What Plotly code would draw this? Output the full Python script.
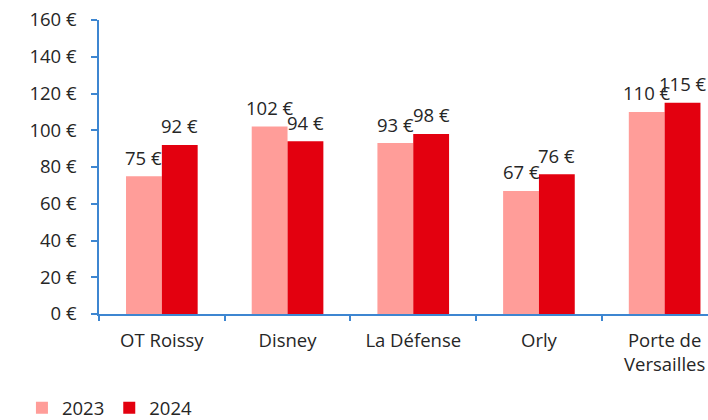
import plotly.graph_objects as go

categories = ["OT Roissy", "Disney", "La Défense", "Orly", "Porte de<br>Versailles"]
values_2023 = [75, 102, 93, 67, 110]
values_2024 = [92, 94, 98, 76, 115]
series_names = ["2023", "2024"]
y_ticks = [0, 20, 40, 60, 80, 100, 120, 140, 160]
y_tick_labels = [f"{v} €" for v in y_ticks]

PINK = "#FF9D99"
RED = "#E3000F"
AXIS = "#3D86D1"
TEXT = "#262626"
FONT = "Open Sans"
FS = 18.5

fig = go.Figure()
fig.add_trace(go.Bar(x=categories, y=values_2023, name=series_names[0],
                     marker=dict(color=PINK, line=dict(width=0))))
fig.add_trace(go.Bar(x=categories, y=values_2024, name=series_names[1],
                     marker=dict(color=RED, line=dict(width=0))))

bargap = 0.43
half = (1 - bargap) / 4
for i in range(len(categories)):
    for vals, off in ((values_2023, -half), (values_2024, half)):
        fig.add_annotation(x=i + off, y=vals[i], text=f"{vals[i]} €",
                           showarrow=False, yanchor="middle", yshift=19,
                           font=dict(family=FONT, size=FS, color=TEXT))

fig.update_layout(
    width=708, height=420,
    margin=dict(l=99, r=0, t=20, b=106, autoexpand=False),
    paper_bgcolor="white", plot_bgcolor="white",
    barmode="group", bargap=bargap, bargroupgap=0,
    font=dict(family=FONT, size=FS, color=TEXT),
    showlegend=True,
    legend=dict(orientation="h", xref="container", yref="container",
                x=0.031, y=0.028, xanchor="left", yanchor="middle",
                font=dict(family=FONT, size=FS, color=TEXT),
                itemwidth=30, tracegroupgap=0),
    xaxis=dict(range=[-0.5, 4.345], showline=True, linecolor=AXIS, linewidth=1.5,
               ticks="outside", tickson="boundaries", ticklen=5, tickcolor=AXIS,
               tickwidth=1.5, showgrid=False, automargin=False,
               ticklabeloverflow="allow", ticklabelstandoff=9,
               tickfont=dict(family=FONT, size=FS, color=TEXT)),
    yaxis=dict(range=[0, 160], tickvals=y_ticks, ticktext=y_tick_labels,
               showline=True, linecolor=AXIS, linewidth=1.5, ticks="outside",
               ticklen=6, tickcolor=AXIS, tickwidth=1.5, showgrid=False,
               zeroline=False, ticklabelstandoff=11, automargin=False,
               ticklabeloverflow="allow",
               tickfont=dict(family=FONT, size=FS, color=TEXT)),
)

fig.write_html("out.html", config={"displayModeBar": False},
               post_script="document.body.style.margin='0';document.body.style.overflow='hidden';")
